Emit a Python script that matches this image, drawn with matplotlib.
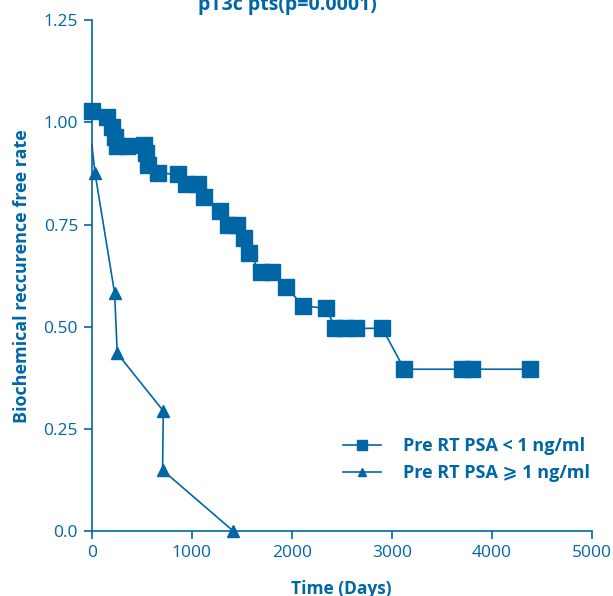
import matplotlib.pyplot as plt

# survival curves
low_days = [0, 153, 203, 233, 247, 347, 523, 543, 557, 663, 864, 941, 1064, 1121,
            1281, 1364, 1448, 1524, 1574, 1687, 1798, 1947, 2115, 2345, 2435, 2530,
            2640, 2906, 3126, 3700, 3800, 4387]
low_rate = [1.027, 1.013, 0.988, 0.965, 0.943, 0.943, 0.945, 0.925, 0.896, 0.876,
            0.873, 0.849, 0.849, 0.817, 0.784, 0.749, 0.749, 0.717, 0.680, 0.633,
            0.633, 0.596, 0.551, 0.545, 0.496, 0.496, 0.496, 0.496, 0.396, 0.396,
            0.396, 0.396]

high_days = [0, 30, 227, 253, 714, 707, 1414]
high_rate = [0.945, 0.877, 0.582, 0.435, 0.294, 0.149, 0.0]

x_ticks = [0, 1000, 2000, 3000, 4000, 5000]
y_ticks = [0.0, 0.25, 0.50, 0.75, 1.00, 1.25]
y_labels = ['0.0', '0.25', '0.50', '0.75', '1.00', '1.25']

blue = '#0066a6'
plt.rcParams['font.family'] = ['Open Sans', 'DejaVu Sans']

fig = plt.figure(figsize=(6.13, 5.96), dpi=100)
ax = fig.add_axes([0.150, 0.109, 0.815, 0.857])

ax.plot(low_days, low_rate, color=blue, lw=1.2, marker='s', markersize=11,
        clip_on=False, label='Pre RT PSA < 1 ng/ml')
ax.plot(high_days, high_rate, color=blue, lw=1.2, marker='^', markersize=9,
        markevery=list(range(1, len(high_days))), clip_on=False,
        label='Pre RT PSA \u2a7e 1 ng/ml')

ax.set_xlim(0, 5000)
ax.set_ylim(0, 1.25)
ax.set_xticks(x_ticks)
ax.set_yticks(y_ticks)
ax.set_yticklabels(y_labels)

for side in ['top', 'right']:
    ax.spines[side].set_visible(False)
for side in ['left', 'bottom']:
    ax.spines[side].set_color(blue)
    ax.spines[side].set_linewidth(1.2)
ax.tick_params(colors=blue, labelsize=12.5, width=1.2, length=6, pad=4)

ax.set_xlabel('Time (Days)', color=blue, fontsize=12.5, fontweight='bold', labelpad=14)
ax.set_ylabel('Biochemical reccurence free rate', color=blue, fontsize=13,
              fontweight='bold', labelpad=9)

fig.text(0.468, 0.983, 'pT3c pts(p=0.0001)', color=blue, fontsize=14,
         fontweight='bold', ha='center', va='baseline')

leg = ax.legend(loc='upper left', bbox_to_anchor=(0.47, 0.215), frameon=False,
                handlelength=2.1, handletextpad=1.2, labelspacing=0.5,
                prop={'weight': 'bold', 'size': 13}, markerscale=0.6)
for t in leg.get_texts():
    t.set_color(blue)

fig.savefig('out.png', dpi=100)
